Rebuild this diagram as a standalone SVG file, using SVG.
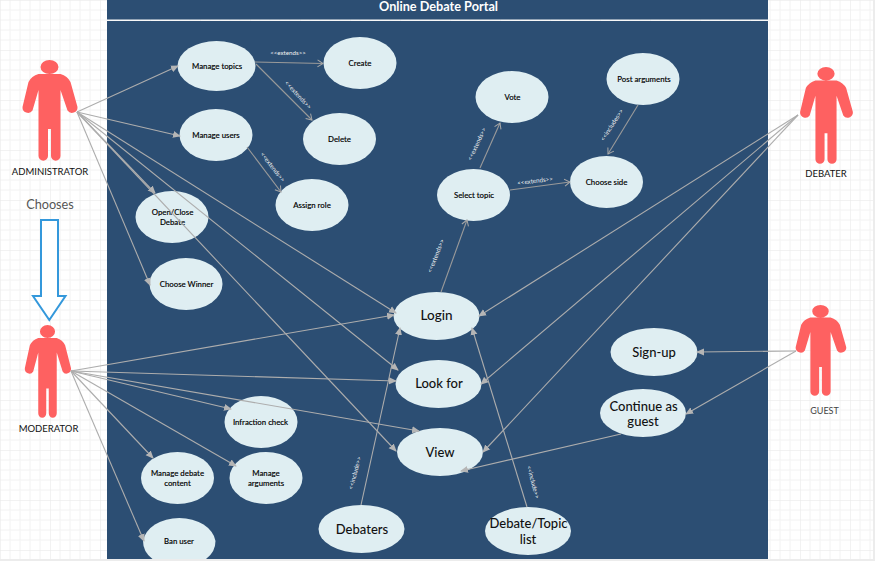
<svg xmlns="http://www.w3.org/2000/svg" width="875" height="561" viewBox="0 0 875 561">
<defs>
<pattern id="grid" width="50" height="50" patternUnits="userSpaceOnUse">
<path d="M10 0V50M20 0V50M30 0V50M40 0V50M0 10H50M0 20H50M0 30H50M0 40H50" stroke="#f2f2f2" stroke-width="1" fill="none"/>
<path d="M0 0V50M0 0H50" stroke="#e6e6e6" stroke-width="1" fill="none"/>
</pattern>
<marker id="tri" markerUnits="userSpaceOnUse" markerWidth="9" markerHeight="8" refX="7" refY="4" orient="auto"><path d="M0 .5L8 4L0 7.500Z" fill="#b5b5b5"/></marker>
<marker id="open" markerUnits="userSpaceOnUse" markerWidth="9" markerHeight="10" refX="7" refY="5" orient="auto"><path d="M1.500 1.500L7 5L1.500 8.500" fill="none" stroke="#a8a8a8" stroke-width="1"/></marker>
<path id="person" d="M-11 14L11 14Q18 16 21 22L28 47A5.500 5.500 0 0 1 18 50.500L11 30L11 96A4.700 4.700 0 0 1 1.500 96L1.500 69L-1.500 69L-1.500 96A4.700 4.700 0 0 1 -11 96L-11 30L-17 50.500A5.500 5.500 0 0 1 -27 47L-21 22Q-18 16 -11 14ZM-9 7A9 7 0 1 1 9 7A9 7 0 1 1 -9 7Z" fill="#fe6161"/>
</defs>
<style>
.uc{fill:#dfeef2}
.t{font-family:Lato,"Liberation Sans",sans-serif;fill:#111;text-anchor:middle}
.s{font-size:7.800px;font-weight:500;fill:#000;stroke:#000;stroke-width:.12px}
.b{font-size:13px;font-weight:500}
.a{font-size:9.500px}
.k{font-family:Lato,"Liberation Sans",sans-serif;font-size:6.200px;fill:#f2f2f2;text-anchor:middle}
.c{fill:none;stroke:#adadad;stroke-width:1.100}
.tc{marker-end:url(#tri)}
.oc{marker-end:url(#open);stroke:#9a9a9a}
</style>
<rect width="875" height="561" fill="#fff"/>
<rect width="873" height="559" fill="url(#grid)"/>
<rect y="559" width="875" height="2" fill="#ececec"/>
<rect x="873" width="2" height="561" fill="#ececec"/>
<g id="system">
<rect x="107" y="0" width="661" height="19.500" fill="#2c4e73"/>
<rect x="107" y="21" width="661" height="538" fill="#2c4e73"/>
<text x="438.500" y="11" font-family="Lato,'Liberation Sans',sans-serif" font-size="12.700" font-weight="700" fill="#fff" text-anchor="middle">Online Debate Portal</text>
</g>

<g id="chooses">
<text x="50" y="209" font-family="Lato,'Liberation Sans',sans-serif" font-size="12.700" fill="#555" text-anchor="middle">Chooses</text>
<path d="M41 220H58V296H65.500L49.300 320L33 296H41Z" fill="#fff" stroke="#3498db" stroke-width="2"/>
</g>

<g id="actor-administrator"><use href="#person" transform="translate(49.500 60)"/><text class="t a" x="50" y="175">ADMINISTRATOR</text></g>
<g id="actor-moderator"><use href="#person" transform="translate(47.500 325) scale(.84 .92)"/><text class="t a" x="48.500" y="432">MODERATOR</text></g>
<g id="actor-debater"><use href="#person" transform="translate(826 67) scale(.96)"/><text class="t a" x="826" y="177">DEBATER</text></g>
<g id="actor-guest"><use href="#person" transform="translate(820.500 305) scale(.92 .9)"/><text class="t" x="824.500" y="414" font-size="9" style="fill:#444">GUEST</text></g>

<g id="uc-manage-topics"><ellipse class="uc" cx="216.500" cy="66" rx="39" ry="25"/><text class="t s" x="217" y="69">Manage topics</text></g>
<g id="uc-manage-users"><ellipse class="uc" cx="216" cy="135" rx="36.500" ry="26"/><text class="t s" x="216" y="138">Manage users</text></g>
<g id="uc-create"><ellipse class="uc" cx="360" cy="63" rx="36.500" ry="26"/><text class="t s" x="360" y="66">Create</text></g>
<g id="uc-delete"><ellipse class="uc" cx="339.500" cy="139" rx="36.500" ry="26"/><text class="t s" x="339.500" y="142">Delete</text></g>
<g id="uc-assign-role"><ellipse class="uc" cx="312" cy="205" rx="36.500" ry="26"/><text class="t s" x="312" y="208">Assign role</text></g>
<g id="uc-open-close"><ellipse class="uc" cx="172" cy="217" rx="36.500" ry="26"/><text class="t s" x="172.500" y="215">Open/Close</text><text class="t s" x="172.500" y="225">Debate</text></g>
<g id="uc-choose-winner"><ellipse class="uc" cx="186" cy="284" rx="36.500" ry="26"/><text class="t s" x="186.500" y="287">Choose Winner</text></g>
<g id="uc-select-topic"><ellipse class="uc" cx="473.500" cy="195" rx="36.500" ry="26"/><text class="t s" x="474" y="198">Select topic</text></g>
<g id="uc-vote"><ellipse class="uc" cx="512" cy="97" rx="36.500" ry="26"/><text class="t s" x="512.500" y="100">Vote</text></g>
<g id="uc-post-arguments"><ellipse class="uc" cx="643" cy="79" rx="36.500" ry="26"/><text class="t s" x="644" y="82">Post arguments</text></g>
<g id="uc-choose-side"><ellipse class="uc" cx="606.500" cy="182" rx="36.500" ry="26"/><text class="t s" x="606.500" y="185">Choose side</text></g>
<g id="uc-infraction"><ellipse class="uc" cx="261" cy="422" rx="36.500" ry="26"/><text class="t s" x="260.500" y="425">Infraction check</text></g>
<g id="uc-manage-debate"><ellipse class="uc" cx="177.500" cy="478" rx="36.500" ry="26"/><text class="t s" x="177.500" y="476">Manage debate</text><text class="t s" x="177.500" y="486">content</text></g>
<g id="uc-manage-arguments"><ellipse class="uc" cx="266" cy="478" rx="36.500" ry="26"/><text class="t s" x="266" y="476">Manage</text><text class="t s" x="266" y="486">arguments</text></g>
<g id="uc-ban"><path class="uc" d="M143 541A36.500 26 0 0 1 215.500 541Q215.500 552 206 559H152.500Q143 552 143 541Z"/><text class="t s" x="179" y="544">Ban user</text></g>
<g id="uc-login"><ellipse class="uc" cx="436.500" cy="316" rx="43" ry="24"/><text class="t b" x="436.500" y="320" style="font-size:13.500px">Login</text></g>
<g id="uc-look-for"><ellipse class="uc" cx="438.500" cy="384" rx="43" ry="24"/><text class="t b" x="439" y="388">Look for</text></g>
<g id="uc-view"><ellipse class="uc" cx="440" cy="452" rx="43" ry="24"/><text class="t b" x="440" y="456.500">View</text></g>
<g id="uc-debaters"><ellipse class="uc" cx="361.500" cy="529" rx="43" ry="24"/><text class="t b" x="362" y="534">Debaters</text></g>
<g id="uc-topic-list"><ellipse class="uc" cx="528" cy="531" rx="43" ry="24"/><text class="t b" x="528.500" y="528">Debate/Topic</text><text class="t b" x="528" y="544">list</text></g>
<g id="uc-sign-up"><ellipse class="uc" cx="654" cy="352" rx="43.500" ry="24"/><text class="t b" x="654" y="357">Sign-up</text></g>
<g id="uc-continue"><ellipse class="uc" cx="643" cy="413" rx="43" ry="24"/><text class="t b" x="643.500" y="411">Continue as</text><text class="t b" x="643" y="426">guest</text></g>

<g id="connectors">
<path class="c tc" d="M77 112L178 66"/>
<path class="c tc" d="M77 112L180 136"/>
<path class="c tc" d="M77 112L155 193"/>
<path class="c tc" d="M77 112L150 285"/>
<path class="c tc" d="M77 112L396 313"/>
<path class="c tc" d="M77 112L398 370"/>
<path class="c tc" d="M77 112L396 451"/>
<path class="c tc" d="M71 371L394 315"/>
<path class="c tc" d="M71 371L396 381"/>
<path class="c tc" d="M71 371L419 431"/>
<path class="c tc" d="M71 371L231 409"/>
<path class="c tc" d="M71 371L236 466"/>
<path class="c tc" d="M71 371L153 458"/>
<path class="c tc" d="M71 371L144 541"/>
<path class="c tc" d="M798 115L479 316"/>
<path class="c tc" d="M798 115L481 384"/>
<path class="c tc" d="M798 115L483 452"/>
<path class="c tc" d="M796 351L697 352"/>
<path class="c tc" d="M796 351L686 414"/>
<path class="c tc" d="M621 434L461 471"/>
<path class="c tc" d="M361 505L400 328"/>
<path class="c tc" d="M527 507L472 328"/>
<path class="c oc" d="M255 62L323 63.500"/>
<path class="c oc" d="M256 64L312 120"/>
<path class="c oc" d="M247 147L281 192"/>
<path class="c oc" d="M441 292L467 220"/>
<path class="c oc" d="M480 168L500 123"/>
<path class="c oc" d="M510 190L570 182"/>
<path class="c oc" d="M638 105L608 154"/>
<text class="k" x="288" y="55">&lt;&lt;extends&gt;&gt;</text>
<text class="k" transform="translate(298 95) rotate(47)" y="2">&lt;&lt;extends&gt;&gt;</text>
<text class="k" transform="translate(272.500 167) rotate(52)" y="2">&lt;&lt;extends&gt;&gt;</text>
<text class="k" transform="translate(436 256) rotate(-68)" y="2">&lt;&lt;extends&gt;&gt;</text>
<text class="k" transform="translate(477 144) rotate(-65)" y="2">&lt;&lt;extends&gt;&gt;</text>
<text class="k" transform="translate(535 181) rotate(-7)" y="2">&lt;&lt;extends&gt;&gt;</text>
<text class="k" transform="translate(612 125) rotate(-57)" y="2">&lt;&lt;includes&gt;&gt;</text>
<text class="k" transform="translate(355 473) rotate(-75)" y="2">&lt;&lt;include&gt;&gt;</text>
<text class="k" transform="translate(533 482) rotate(75)" y="2">&lt;&lt;include&gt;&gt;</text>
</g>
</svg>
